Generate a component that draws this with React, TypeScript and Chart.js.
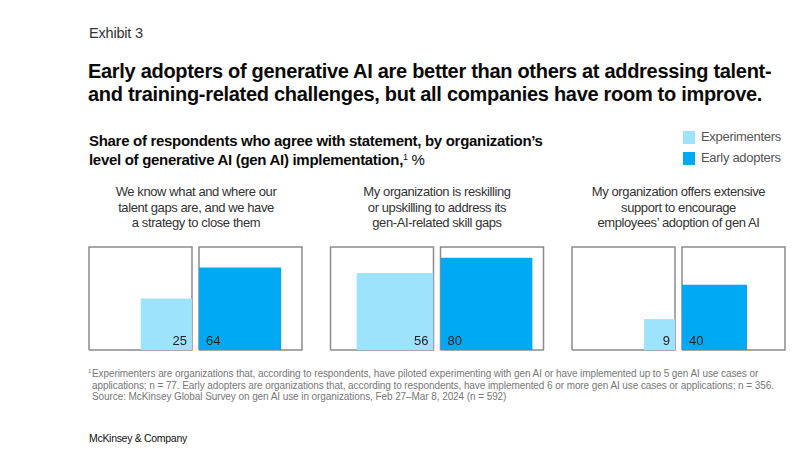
import React, { useEffect, useRef } from "react";
import { Chart, registerables } from "chart.js";

Chart.register(...registerables);

// ---- data ----
const exhibitLabel = "Exhibit 3";
const titleLines = [
  "Early adopters of generative AI are better than others at addressing talent-",
  "and training-related challenges, but all companies have room to improve.",
];
const subtitleLines = [
  "Share of respondents who agree with statement, by organization\u2019s",
  "level of generative AI (gen AI) implementation,",
];
const seriesNames = ["Experimenters", "Early adopters"];
const statements = [
  ["We know what and where our", "talent gaps are, and we have", "a strategy to close them"],
  ["My organization is reskilling", "or upskilling to address its", "gen-AI-related skill gaps"],
  ["My organization offers extensive", "support to encourage", "employees\u2019 adoption of gen AI"],
];
const experimenters = [25, 56, 9];
const earlyAdopters = [64, 80, 40];
const footnoteLines = [
  "Experimenters are organizations that, according to respondents, have piloted experimenting with gen AI or have implemented up to 5 gen AI use cases or",
  "applications; n = 77. Early adopters are organizations that, according to respondents, have implemented 6 or more gen AI use cases or applications; n = 356.",
  "Source: McKinsey Global Survey on gen AI use in organizations, Feb 27\u2013Mar 8, 2024 (n = 592)",
];
const sourceBrand = "McKinsey & Company";

// ---- style / layout ----
const COLORS = ["#9de3fb", "#00a9f4"];
const OUTLINE = "#8c8c8c";
const BOX = 10; // side of a full (100%) square in scale units
const BOX_GAP = 0.68; // gap between the two boxes of a panel
const PANEL_GAP = 2.77; // gap between panels
const BOX_OFFSET = BOX + BOX_GAP;
const PANEL_STRIDE = 2 * BOX + BOX_GAP + PANEL_GAP;
const X_MAX = 2 * PANEL_STRIDE + BOX_OFFSET + BOX;
const side = (v: number) => BOX * Math.sqrt(v / 100);

const SANS = "'Liberation Sans', Arial, sans-serif";

function buildDatasets() {
  const fills: any[] = [];
  const outlines: any[] = [];
  experimenters.forEach((v, p) => {
    const x0 = p * PANEL_STRIDE;
    const sA = side(v);
    const sB = side(earlyAdopters[p]);
    const x1 = x0 + BOX_OFFSET;
    fills.push({
      label: seriesNames[0],
      data: [
        { x: x0 + BOX - sA, y: sA },
        { x: x0 + BOX, y: sA },
      ],
      backgroundColor: COLORS[0],
      borderWidth: 0,
      fill: "origin",
      pointRadius: 0,
      showLine: true,
      clip: false,
    });
    fills.push({
      label: seriesNames[1],
      data: [
        { x: x1, y: sB },
        { x: x1 + sB, y: sB },
      ],
      backgroundColor: COLORS[1],
      borderWidth: 0,
      fill: "origin",
      pointRadius: 0,
      showLine: true,
      clip: false,
    });
    [x0, x1].forEach((bx) => {
      outlines.push({
        label: "box",
        data: [
          { x: bx, y: 0 },
          { x: bx, y: BOX },
          { x: bx + BOX, y: BOX },
          { x: bx + BOX, y: 0 },
          { x: bx, y: 0 },
        ],
        borderColor: OUTLINE,
        borderWidth: 1.5,
        fill: false,
        pointRadius: 0,
        showLine: true,
        tension: 0,
        clip: false,
      });
    });
  });
  return [...fills, ...outlines];
}

const valueLabels = {
  id: "valueLabels",
  afterDatasetsDraw(chart: any) {
    const { ctx, scales } = chart;
    const xs = scales.x;
    const ys = scales.y;
    const base = ys.getPixelForValue(0) - 5;
    ctx.save();
    ctx.font = `13px ${SANS}`;
    ctx.fillStyle = "#222";
    ctx.textBaseline = "alphabetic";
    experimenters.forEach((v, p) => {
      const x0 = p * PANEL_STRIDE;
      ctx.textAlign = "right";
      ctx.fillText(String(v), xs.getPixelForValue(x0 + BOX) - 5, base);
      ctx.textAlign = "left";
      ctx.fillText(String(earlyAdopters[p]), xs.getPixelForValue(x0 + BOX_OFFSET) + 7, base);
    });
    ctx.restore();
  },
};

function SquaresChart() {
  const ref = useRef<HTMLCanvasElement>(null);
  useEffect(() => {
    if (!ref.current) return;
    const chart = new Chart(ref.current, {
      type: "scatter",
      data: { datasets: buildDatasets() },
      options: {
        animation: false,
        responsive: false,
        maintainAspectRatio: false,
        layout: { padding: { left: 5, right: 5, top: 7, bottom: 5 } },
        plugins: { legend: { display: false }, tooltip: { enabled: false } },
        scales: {
          x: { type: "linear", min: 0, max: X_MAX, display: false },
          y: { type: "linear", min: 0, max: BOX, display: false },
        },
      },
      plugins: [valueLabels],
    });
    return () => chart.destroy();
  }, []);
  return (
    <canvas
      ref={ref}
      width={706}
      height={115}
      style={{ position: "absolute", left: 84, top: 240, width: 706, height: 115 }}
    />
  );
}

const abs = (o: React.CSSProperties): React.CSSProperties => ({ position: "absolute", whiteSpace: "nowrap", ...o });

export default function App() {
  const panelCenters = [196, 437, 678.5];
  return (
    <div
      style={{
        position: "fixed",
        left: 0,
        top: 0,
        width: 811,
        height: 457,
        background: "#fff",
        overflow: "hidden",
        fontFamily: SANS,
      }}
    >
      <div style={abs({ left: 89, top: 25, fontSize: 14.5, lineHeight: "16px", color: "#333", letterSpacing: -0.2 })}>
        {exhibitLabel}
      </div>
      <div
        style={abs({
          left: 88,
          top: 60,
          fontSize: 20,
          lineHeight: "23px",
          fontWeight: 700,
          color: "#0a0a0a",
          letterSpacing: -0.3,
        })}
      >
        {titleLines.map((l, i) => (
          <div key={i}>{l}</div>
        ))}
      </div>
      <div
        style={abs({
          left: 89,
          top: 132,
          fontSize: 15,
          lineHeight: "17px",
          fontWeight: 700,
          color: "#0a0a0a",
          letterSpacing: -0.3,
        })}
      >
        <div>{subtitleLines[0]}</div>
        <div>
          {subtitleLines[1]}
          <span style={{ fontWeight: 400, fontSize: 9, verticalAlign: 5 }}>1</span>
          <span style={{ fontWeight: 400 }}> %</span>
        </div>
      </div>
      {seriesNames.map((n, i) => (
        <React.Fragment key={n}>
          <div style={abs({ left: 683, top: 131 + i * 21, width: 12, height: 13, background: COLORS[i] })} />
          <div
            style={abs({ left: 701, top: 129 + i * 21, fontSize: 13, lineHeight: "16px", color: "#555", letterSpacing: -0.3 })}
          >
            {n}
          </div>
        </React.Fragment>
      ))}
      {statements.map((lines, p) => (
        <div
          key={p}
          style={abs({
            left: panelCenters[p] - 110,
            width: 220,
            top: 184,
            fontSize: 13,
            lineHeight: "15.5px",
            color: "#333",
            textAlign: "center",
            letterSpacing: -0.4,
          })}
        >
          {lines.map((l, i) => (
            <div key={i}>{l}</div>
          ))}
        </div>
      ))}
      <SquaresChart />
      <div style={abs({ left: 88, top: 368, fontSize: 10, lineHeight: "11.5px", color: "#777", letterSpacing: -0.08 })}>
        <span style={{ position: "absolute", left: 0, top: -2, fontSize: 6 }}>1</span>
        <div style={{ paddingLeft: 4 }}>
          {footnoteLines.map((l, i) => (
            <div key={i}>{l}</div>
          ))}
        </div>
      </div>
      <div
        style={abs({ left: 89, top: 431, fontSize: 10.5, lineHeight: "14px", color: "#111", letterSpacing: -0.3 })}
      >
        {sourceBrand}
      </div>
    </div>
  );
}
